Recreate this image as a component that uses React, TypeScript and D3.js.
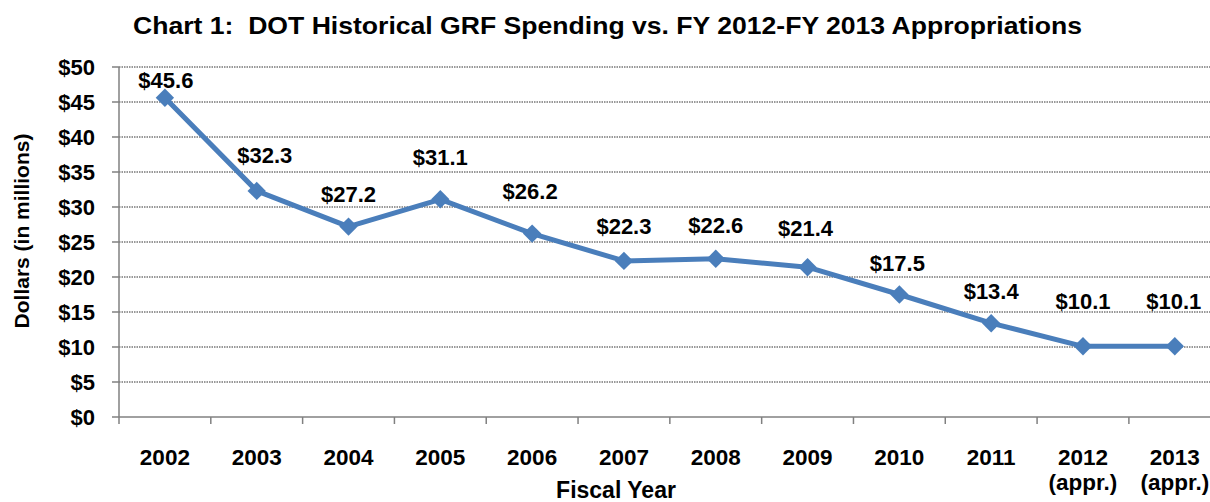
import React from "react";
import * as d3 from "d3";

const categories = ["2002", "2003", "2004", "2005", "2006", "2007", "2008", "2009", "2010", "2011", "2012", "2013"];
const subLabels = ["", "", "", "", "", "", "", "", "", "", "(appr.)", "(appr.)"];
const values = [45.6, 32.3, 27.2, 31.1, 26.2, 22.3, 22.6, 21.4, 17.5, 13.4, 10.1, 10.1];
const yTicks = [0, 5, 10, 15, 20, 25, 30, 35, 40, 45, 50];

// label placement tweaks (pixels above point / horizontal shift)
const labelDy = [10, 28, 25, 34, 35, 27, 26, 31, 24, 24, 37, 37];
const labelDx = [1, 8, 0, 0, -2, 0, 0, -2, -2, 0, 0, -1];

const W = 1210;
const H = 502;
const FONT = "'Liberation Sans', Arial, Helvetica, sans-serif";
const BLUE = "#4A7EBB";

export default function App() {
  const x = d3.scaleBand<string>().domain(categories).range([119, 1220.7]);
  const y = d3.scaleLinear().domain([0, 50]).range([417, 67]);
  const cx = (c: string) => (x(c) as number) + x.bandwidth() / 2;

  const line = d3
    .line<number>()
    .x((_, i) => cx(categories[i]))
    .y((v) => y(v));

  const diamond = d3.symbol().type(d3.symbolDiamond2).size(215)();
  const boundaries = categories.map((c) => x(c) as number).concat([x.range()[1]]);

  return (
    <svg
      width={W}
      height={H}
      style={{ position: "absolute", left: 0, top: 0, background: "#fff" }}
      fontFamily={FONT}
    >
      <rect x={0} y={0} width={W} height={H} fill="#fff" />
      <text
        x={133}
        y={34}
        fontSize={24}
        fontWeight="bold"
        fill="#000"
        textLength={949}
        lengthAdjust="spacingAndGlyphs"
      >
        Chart 1:{"\u00A0\u00A0"}DOT Historical GRF Spending vs. FY 2012-FY 2013 Appropriations
      </text>

      {/* gridlines */}
      {yTicks
        .filter((t) => t > 0)
        .map((t) => (
          <line
            key={"g" + t}
            x1={119}
            x2={W}
            y1={y(t)}
            y2={y(t)}
            stroke="#333"
            strokeWidth={1}
            strokeDasharray="1.5,1"
          />
        ))}

      {/* y axis */}
      <line x1={119} x2={119} y1={67} y2={417} stroke="#808080" strokeWidth={1.5} />
      {yTicks.map((t) => (
        <g key={"yt" + t}>
          <line x1={112} x2={119} y1={y(t)} y2={y(t)} stroke="#808080" strokeWidth={1.5} />
          <text x={95} y={y(t) + 7.5} textAnchor="end" fontSize={22} fontWeight="bold" fill="#000">
            {"$" + t}
          </text>
        </g>
      ))}

      {/* x axis */}
      <line x1={119} x2={W} y1={417} y2={417} stroke="#808080" strokeWidth={1.5} />
      {boundaries.map((b, i) => (
        <line key={"xt" + i} x1={b} x2={b} y1={417} y2={424} stroke="#808080" strokeWidth={1.5} />
      ))}
      {categories.map((c, i) => (
        <g key={"xl" + c}>
          <text x={cx(c)} y={465} textAnchor="middle" fontSize={22.5} fontWeight="bold" fill="#000">
            {c}
          </text>
          {subLabels[i] && (
            <text x={cx(c)} y={490} textAnchor="middle" fontSize={22.5} fontWeight="bold" fill="#000">
              {subLabels[i]}
            </text>
          )}
        </g>
      ))}

      <text x={616} y={498} textAnchor="middle" fontSize={23} fontWeight="bold" fill="#000">
        Fiscal Year
      </text>
      <text
        transform="translate(29,231) rotate(-90)"
        textAnchor="middle"
        fontSize={21}
        fontWeight="bold"
        fill="#000"
      >
        Dollars (in millions)
      </text>

      {/* series */}
      <path d={line(values) || ""} fill="none" stroke={BLUE} strokeWidth={5} strokeLinejoin="round" />
      {values.map((v, i) => (
        <path key={"m" + i} d={diamond || ""} transform={`translate(${cx(categories[i])},${y(v)})`} fill={BLUE} />
      ))}
      {values.map((v, i) => (
        <text
          key={"dl" + i}
          x={cx(categories[i]) + labelDx[i]}
          y={y(v) - labelDy[i]}
          textAnchor="middle"
          fontSize={22}
          fontWeight="bold"
          fill="#000"
        >
          {"$" + v.toFixed(1)}
        </text>
      ))}
    </svg>
  );
}
